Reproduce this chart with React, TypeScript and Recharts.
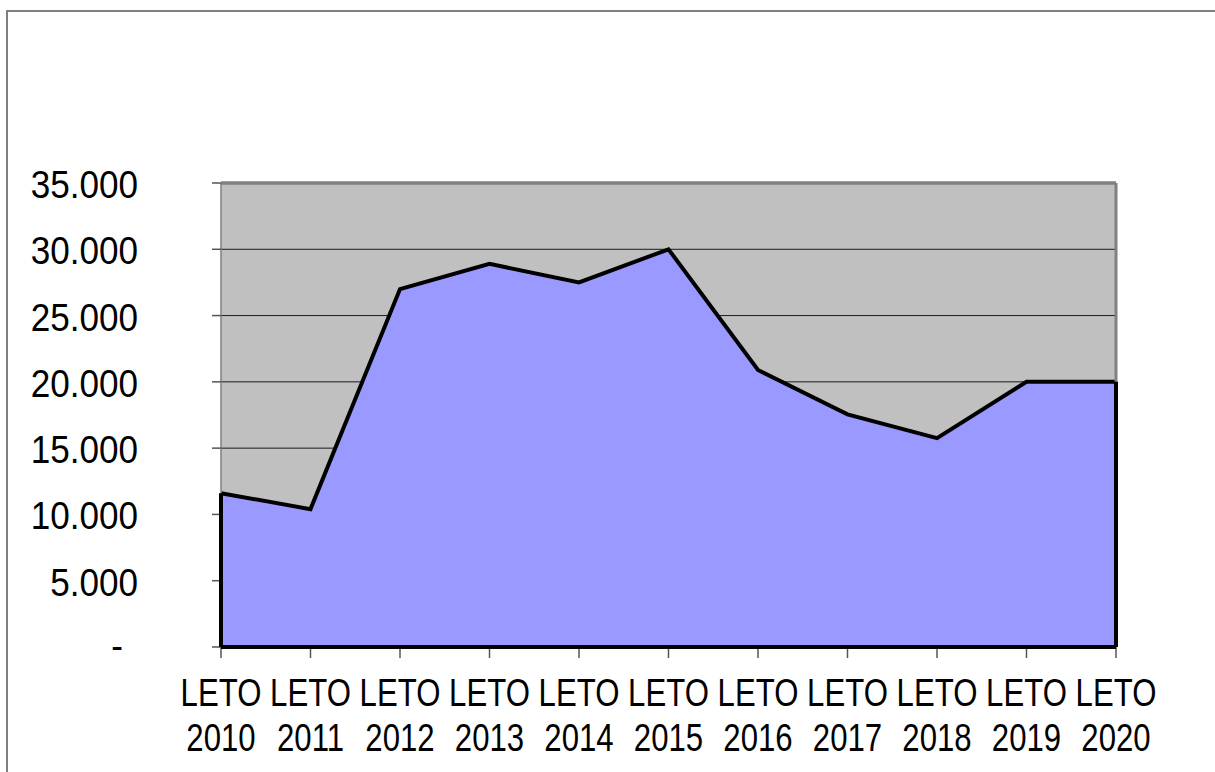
import React from "react"
import {
  AreaChart,
  Area,
  XAxis,
  YAxis,
  CartesianGrid,
  ReferenceLine,
} from "recharts"

const categories = [
  "LETO 2010",
  "LETO 2011",
  "LETO 2012",
  "LETO 2013",
  "LETO 2014",
  "LETO 2015",
  "LETO 2016",
  "LETO 2017",
  "LETO 2018",
  "LETO 2019",
  "LETO 2020",
]

const values = [11600, 10400, 27000, 28900, 27500, 30000, 20900, 17550, 15750, 20000, 20000]

const yTicks = [0, 5000, 10000, 15000, 20000, 25000, 30000, 35000]

const data = categories.map((name, i) => ({ name, value: values[i] }))

const font = "'Liberation Sans', Arial, sans-serif"

const formatY = (v: number) => (v === 0 ? "-" : `${v / 1000}.000`)

const YTick = ({ x, y, payload }: any) => {
  const zero = payload.value === 0
  const dx = zero ? -89 : -74
  return (
    <text
      transform={`translate(${x + dx},${y}) scale(0.9,1)`}
      x={0}
      y={zero ? 12 : 15}
      textAnchor="end"
      fontSize={39}
      fontFamily={font}
      fill="#000"
    >
      {formatY(payload.value)}
    </text>
  )
}

const XTick = ({ x, y, payload }: any) => {
  const [first, second] = String(payload.value).split(" ")
  return (
    <g transform={`translate(${x},${y}) scale(0.82,1)`}>
      <text textAnchor="middle" fontSize={38} fontFamily={font} fill="#000">
        <tspan x={0} y={48.5}>
          {first}
        </tspan>
        <tspan x={0} y={93.5}>
          {second}
        </tspan>
      </text>
    </g>
  )
}

export default function App() {
  const first = categories[0]
  const last = categories[categories.length - 1]
  return (
    <div style={{ position: "absolute", left: 0, top: 0, width: 1215, height: 772, background: "#fff", overflow: "hidden" }}>
      <div
        style={{
          position: "absolute",
          left: 6,
          top: 10,
          width: 1300,
          height: 900,
          borderTop: "2px solid #7f7f7f",
          borderLeft: "2px solid #7f7f7f",
        }}
      />
      <div style={{ position: "absolute", left: 0, top: 0 }}>
        <AreaChart
          width={1215}
          height={772}
          data={data}
          margin={{ top: 183, right: 99, left: 0, bottom: 0 }}
        >
          <CartesianGrid
            vertical={false}
            stroke="#1a1a1a"
            fill="#C0C0C0"
            fillOpacity={1}
            horizontalValues={yTicks}
          />
          <XAxis
            dataKey="name"
            height={125}
            interval={0}
            tickSize={11}
            tickMargin={0}
            axisLine={{ stroke: "#7f7f7f", strokeWidth: 1 }}
            tickLine={{ stroke: "#555", strokeWidth: 1.5 }}
            tick={<XTick />}
          />
          <YAxis
            width={221}
            domain={[0, 35000]}
            ticks={yTicks}
            interval={0}
            tickSize={9}
            tickMargin={0}
            axisLine={{ stroke: "#7f7f7f", strokeWidth: 1.5 }}
            tickLine={{ stroke: "#555", strokeWidth: 1.5 }}
            tick={<YTick />}
          />
          <ReferenceLine y={35000} stroke="#808080" strokeWidth={3.5} zIndex={900} />
          <ReferenceLine x={last} stroke="#808080" strokeWidth={3} zIndex={900} />
          <Area
            type="linear"
            dataKey="value"
            fill="#9999FF"
            fillOpacity={1}
            stroke="#000"
            strokeWidth={4}
            strokeLinejoin="miter"
            dot={false}
            activeDot={false}
            isAnimationActive={false}
          />
          <ReferenceLine
            segment={[
              { x: first, y: 0 },
              { x: first, y: values[0] },
            ]}
            stroke="#000"
            strokeWidth={4}
            zIndex={1000}
          />
          <ReferenceLine
            segment={[
              { x: last, y: 0 },
              { x: last, y: values[values.length - 1] },
            ]}
            stroke="#000"
            strokeWidth={4}
            zIndex={1000}
          />
          <ReferenceLine y={0} stroke="#000" strokeWidth={4} zIndex={1000} />
        </AreaChart>
      </div>
    </div>
  )
}
